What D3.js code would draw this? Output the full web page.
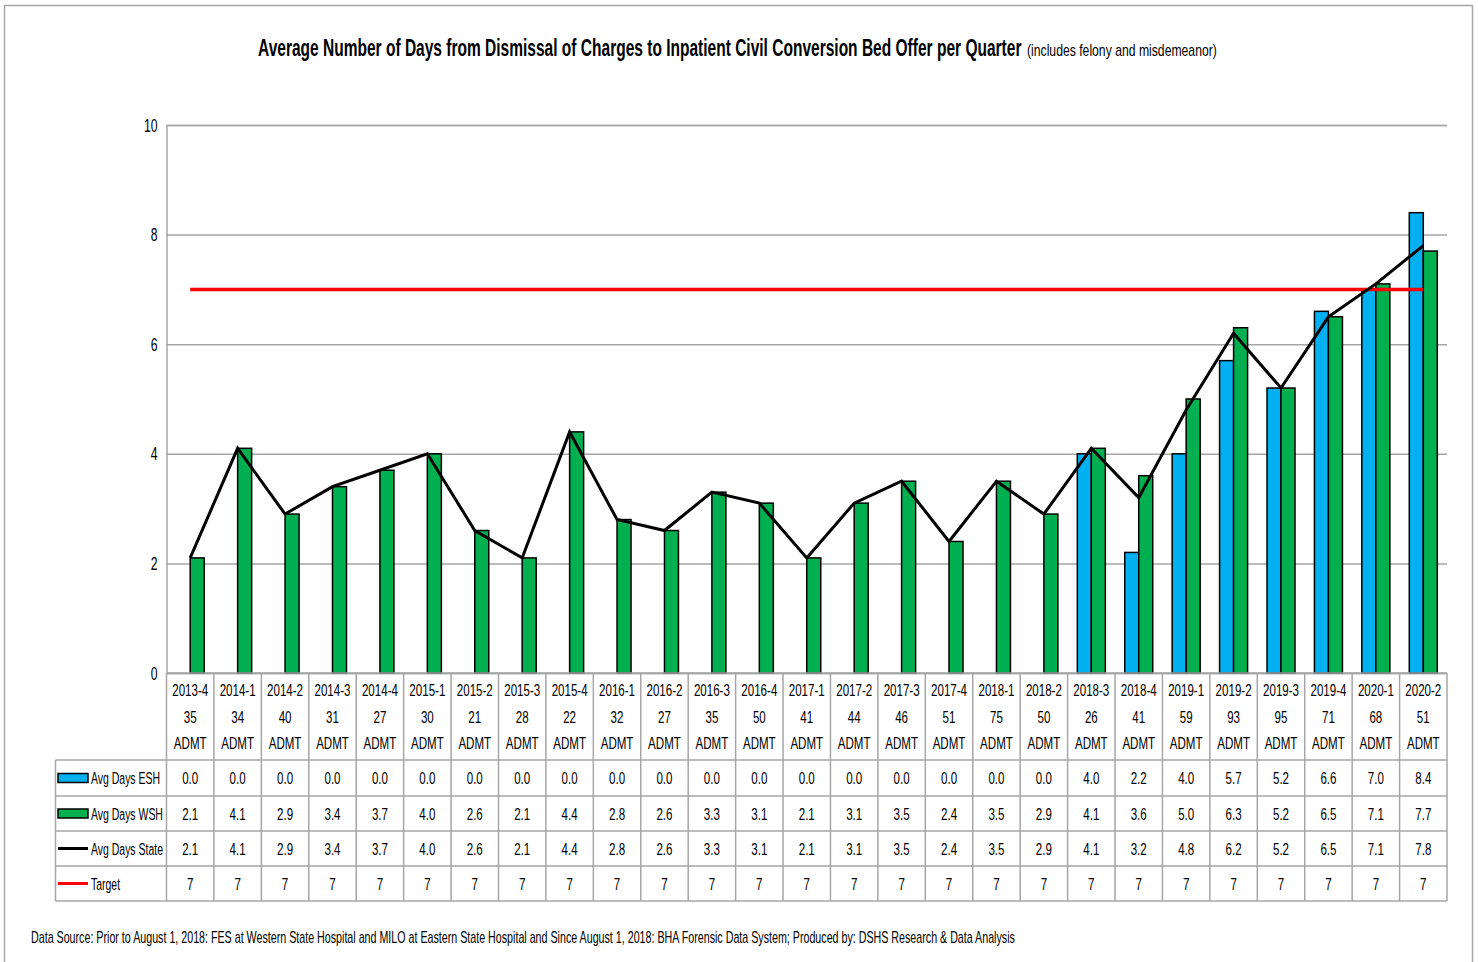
<!DOCTYPE html>
<html>
<head>
<meta charset="utf-8">
<script src="https://cdn.jsdelivr.net/npm/d3@7"></script>
<style>
  html, body { margin: 0; padding: 0; background: #fff; }
  svg { display: block; }
  text { font-family: "Liberation Sans", Arial, sans-serif; fill: #000; }
</style>
</head>
<body>
<svg id="chart" width="1478" height="962"></svg>
<script>
const quarters = ["2013-4","2014-1","2014-2","2014-3","2014-4","2015-1","2015-2","2015-3","2015-4","2016-1","2016-2","2016-3","2016-4","2017-1","2017-2","2017-3","2017-4","2018-1","2018-2","2018-3","2018-4","2019-1","2019-2","2019-3","2019-4","2020-1","2020-2"];
const admissions = [35,34,40,31,27,30,21,28,22,32,27,35,50,41,44,46,51,75,50,26,41,59,93,95,71,68,51];
const eshDays = [0,0,0,0,0,0,0,0,0,0,0,0,0,0,0,0,0,0,0,4.0,2.2,4.0,5.7,5.2,6.6,7.0,8.4];
const wshDays = [2.1,4.1,2.9,3.4,3.7,4.0,2.6,2.1,4.4,2.8,2.6,3.3,3.1,2.1,3.1,3.5,2.4,3.5,2.9,4.1,3.6,5.0,6.3,5.2,6.5,7.1,7.7];
const stateDays = [2.1,4.1,2.9,3.4,3.7,4.0,2.6,2.1,4.4,2.8,2.6,3.3,3.1,2.1,3.1,3.5,2.4,3.5,2.9,4.1,3.2,4.8,6.2,5.2,6.5,7.1,7.8];
const targetDays = [7,7,7,7,7,7,7,7,7,7,7,7,7,7,7,7,7,7,7,7,7,7,7,7,7,7,7];
const yTicks = [0,2,4,6,8,10];
const seriesNames = ["Avg Days ESH","Avg Days WSH","Avg Days State","Target"];

(function () {
const svg = d3.select("#chart");
const pLeft = 166.5, pRight = 1447, pTop = 125, pBottom = 673;
const gridColor = "#a6a6a6";
const blue = "#00b0f0", green = "#00b050";
const FS = 17;

function measure(str, size, weight) {
  const t = svg.append("text").attr("font-size", size).attr("font-weight", weight || "normal").text(str);
  const w = t.node().getComputedTextLength();
  t.remove();
  return w;
}
// horizontal squeeze (narrow, Calibri-like look) applied through a transform
function squeeze(sel, scaleFn) {
  sel.each(function () {
    const t = d3.select(this);
    const x0 = +t.attr("x") || 0, y0 = +t.attr("y") || 0;
    const s = scaleFn(this.getComputedTextLength());
    t.attr("x", 0).attr("y", 0).attr("transform", `translate(${x0},${y0}) scale(${s},1)`);
  });
}
const sTable = 36 / measure("2013-4", FS);
const sLegend = 72 / measure("Avg Days State", FS);

// outer border
svg.append("rect").attr("x", 4.5).attr("y", 5.5).attr("width", 1468).attr("height", 1000)
  .attr("fill", "none").attr("stroke", "#a6a6a6").attr("stroke-width", 1.5);

const x = d3.scaleBand().domain(quarters).range([pLeft, pRight]).padding(0);
const pairW = 28;
const xs = d3.scaleBand().domain(["ESH","WSH"]).range([(x.bandwidth() - pairW) / 2, (x.bandwidth() + pairW) / 2]);
const y = d3.scaleLinear().domain([0, 10]).range([pBottom, pTop]);
const cx = q => x(q) + x.bandwidth() / 2;

// title
const title = svg.append("text").attr("x", 258).attr("y", 56)
  .attr("font-size", 23).attr("font-weight", "bold")
  .text("Average Number of Days from Dismissal of Charges to Inpatient Civil Conversion Bed Offer per Quarter");
squeeze(title, w => 764 / w);
const sub = svg.append("text").attr("x", 1027).attr("y", 56).attr("font-size", 16)
  .text("(includes felony and misdemeanor)");
squeeze(sub, w => 190 / w);

// y axis with gridlines
const yAxis = d3.axisLeft(y).tickValues(yTicks).tickSize(-(pRight - pLeft)).tickPadding(9).tickFormat(d3.format("d"));
const gy = svg.append("g").attr("transform", `translate(${pLeft},0)`).call(yAxis);
gy.attr("font-family", null).attr("font-size", null);
gy.select(".domain").attr("stroke", gridColor).attr("stroke-width", 1.5);
gy.selectAll(".tick line").attr("stroke", gridColor).attr("stroke-width", 1.5);
gy.selectAll(".tick text").attr("font-size", 18).attr("dy", null).attr("y", 6);
squeeze(gy.selectAll(".tick text"), () => sTable);

// bars
const barData = quarters.map((q, i) => ({ q, esh: eshDays[i], wsh: wshDays[i] }));
svg.append("g").selectAll("rect.esh").data(barData.filter(d => d.esh > 0)).join("rect")
  .attr("class", "esh")
  .attr("x", d => x(d.q) + xs("ESH")).attr("width", xs.bandwidth())
  .attr("y", d => y(d.esh)).attr("height", d => y(0) - y(d.esh))
  .attr("fill", blue).attr("stroke", "#000").attr("stroke-width", 1.5);
svg.append("g").selectAll("rect.wsh").data(barData).join("rect")
  .attr("class", "wsh")
  .attr("x", d => x(d.q) + xs("WSH")).attr("width", xs.bandwidth())
  .attr("y", d => y(d.wsh)).attr("height", d => y(0) - y(d.wsh))
  .attr("fill", green).attr("stroke", "#000").attr("stroke-width", 1.5);

// target line
const line = d3.line().x(d => cx(d.q)).y(d => y(d.v));
svg.append("path").datum(quarters.map((q, i) => ({ q, v: targetDays[i] })))
  .attr("d", line).attr("fill", "none").attr("stroke", "#ff0000").attr("stroke-width", 3.5);
// state line
svg.append("path").datum(quarters.map((q, i) => ({ q, v: stateDays[i] })))
  .attr("d", line).attr("fill", "none").attr("stroke", "#000").attr("stroke-width", 3).attr("stroke-linejoin", "miter");

// x axis baseline
svg.append("line").attr("x1", pLeft).attr("x2", pRight).attr("y1", pBottom).attr("y2", pBottom)
  .attr("stroke", gridColor).attr("stroke-width", 1.5);

// data table
const tableLeft = 55.5, tableBottom = 901;
const rowEdges = [760, 796, 831, 866, 901];
const tbl = svg.append("g");
const vEdges = quarters.map(q => x(q)).concat([pRight]);
tbl.selectAll("line.v").data(vEdges).join("line")
  .attr("x1", d => d).attr("x2", d => d).attr("y1", pBottom).attr("y2", tableBottom)
  .attr("stroke", gridColor).attr("stroke-width", 1.5);
tbl.append("line").attr("x1", tableLeft).attr("x2", tableLeft).attr("y1", rowEdges[0]).attr("y2", tableBottom)
  .attr("stroke", gridColor).attr("stroke-width", 1.5);
tbl.selectAll("line.h").data(rowEdges).join("line")
  .attr("x1", tableLeft).attr("x2", pRight).attr("y1", d => d).attr("y2", d => d)
  .attr("stroke", gridColor).attr("stroke-width", 1.5);

// category labels (3 lines)
const catG = svg.append("g").attr("font-size", FS).attr("text-anchor", "middle");
quarters.forEach((q, i) => {
  [q, String(admissions[i]), "ADMT"].forEach((s, k) => {
    catG.append("text").attr("x", cx(q)).attr("y", 696 + k * 26.5).text(s);
  });
});
squeeze(catG.selectAll("text"), () => sTable);

// row values
const rowVals = [eshDays.map(d3.format(".1f")), wshDays.map(d3.format(".1f")), stateDays.map(d3.format(".1f")), targetDays.map(String)];
rowVals.forEach((vals, r) => {
  const cy = (rowEdges[r] + rowEdges[r + 1]) / 2;
  const g = svg.append("g").attr("font-size", FS).attr("text-anchor", "middle");
  g.selectAll("text").data(quarters).join("text")
    .attr("x", d => cx(d)).attr("y", cy + 6).text((d, i) => vals[i]);
  squeeze(g.selectAll("text"), () => sTable);
});

// legend keys + names
const keyX = 58, keyW = 30;
const legG = svg.append("g").attr("font-size", FS);
seriesNames.forEach((name, r) => {
  const cy = (rowEdges[r] + rowEdges[r + 1]) / 2;
  if (r < 2) {
    svg.append("rect").attr("x", keyX).attr("y", cy - 4.5).attr("width", keyW).attr("height", 9)
      .attr("fill", r === 0 ? blue : green).attr("stroke", "#000").attr("stroke-width", 1.5);
  } else {
    svg.append("line").attr("x1", keyX).attr("x2", keyX + keyW).attr("y1", cy).attr("y2", cy)
      .attr("stroke", r === 2 ? "#000" : "#ff0000").attr("stroke-width", 3);
  }
  legG.append("text").attr("x", 91).attr("y", cy + 6).text(name);
});
squeeze(legG.selectAll("text"), () => sLegend);

// source note
const src = svg.append("text").attr("x", 31).attr("y", 943).attr("font-size", 16)
  .text("Data Source: Prior to August 1, 2018: FES at Western State Hospital and MILO at Eastern State Hospital and Since August 1, 2018: BHA Forensic Data System; Produced by: DSHS Research & Data Analysis");
squeeze(src, w => 985 / w);
})();
</script>
</body>
</html>
